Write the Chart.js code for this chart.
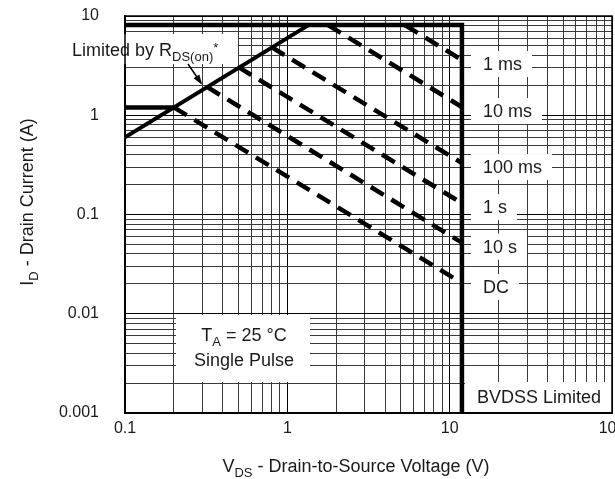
<!DOCTYPE html>
<html>
<head>
<meta charset="utf-8">
<script src="https://cdn.jsdelivr.net/npm/chart.js@4/dist/chart.umd.min.js"></script>
<style>
  html, body { margin: 0; padding: 0; background: #fff; }
  #wrap { width: 615px; height: 479px; position: relative; }
</style>
</head>
<body>
<div id="wrap"><canvas id="c" width="615" height="479"></canvas></div>
<script>
// ---------- data ----------
const xDecades = [0.1, 1, 10, 100];
const xTickLabels = ['0.1', '1', '10', '100'];
const yDecades = [0.001, 0.01, 0.1, 1, 10];
const yTickLabels = ['0.001', '0.01', '0.1', '1', '10'];

// outer boundary: pulsed current limit then BVDSS limit
const boundaryV = [0.1, 11.9, 11.9];
const boundaryI = [8.1, 8.1, 0.001];
// continuous current limit
const idContV = [0.1, 0.2];
const idContI = [1.2, 1.2];
// RDS(on) limit
const rdsV = [0.1, 1.35];
const rdsI = [0.6, 8.1];
// pulse-width limited lines
const pulseLabels = ['1 ms', '10 ms', '100 ms', '1 s', '10 s', 'DC'];
const pulseStartV = [5.3, 1.78, 0.8, 0.5, 0.32, 0.2];
const pulseStartI = [8.1, 8.1, 4.85, 3.05, 1.93, 1.2];
const pulseEndV = [11.9, 11.9, 11.9, 11.9, 11.9, 11.9];
const pulseEndI = [3.6, 1.21, 0.33, 0.13, 0.052, 0.0204];

const FONT = '"Liberation Sans", Arial, Helvetica, sans-serif';
const TXT = '#1a1a1a';

function gridValues(decades) {
  const out = [];
  for (let i = 0; i < decades.length - 1; i++) {
    for (let k = 1; k <= 9; k++) out.push(decades[i] * k);
  }
  out.push(decades[decades.length - 1]);
  return out;
}
function decadeIndex(decades, v) {
  return decades.findIndex(d => Math.abs(d - v) / d < 1e-6);
}
function pts(xs, ys) { return xs.map((x, i) => ({ x: x, y: ys[i] })); }

const datasets = [
  { data: pts(boundaryV, boundaryI), borderWidth: 4.5, borderJoinStyle: 'miter' },
  { data: pts(idContV, idContI), borderWidth: 4.5 },
  { data: pts(rdsV, rdsI), borderWidth: 4 }
];
pulseLabels.forEach((lab, i) => {
  datasets.push({
    label: lab,
    data: pts([pulseStartV[i], pulseEndV[i]], [pulseStartI[i], pulseEndI[i]]),
    borderWidth: 4.5,
    borderDash: [15, 9]
  });
});
datasets.forEach(d => {
  d.showLine = true; d.pointRadius = 0; d.borderColor = '#000'; d.fill = false;
  d.pointHoverRadius = 0;
});

// ---------- helpers for rich text ----------
function richWidth(ctx, parts) {
  let w = 0;
  parts.forEach(p => { ctx.font = p.size + 'px ' + FONT; w += ctx.measureText(p.t).width; });
  return w;
}
function drawRich(ctx, parts, x, y, align) {
  const w = richWidth(ctx, parts);
  let cx = align === 'center' ? x - w / 2 : x;
  ctx.textBaseline = 'alphabetic';
  ctx.textAlign = 'left';
  parts.forEach(p => {
    ctx.font = p.size + 'px ' + FONT;
    ctx.fillText(p.t, cx, y + (p.dy || 0));
    cx += ctx.measureText(p.t).width;
  });
  return w;
}

const annotations = {
  id: 'annotations',
  beforeDatasetsDraw(chart) {
    const ctx = chart.ctx;
    const xs = chart.scales.x, ys = chart.scales.y;
    const area = chart.chartArea;
    ctx.save();
    ctx.fillStyle = TXT;
    // right side pulse labels
    const bx = xs.getPixelForValue(pulseEndV[0]);
    pulseLabels.forEach((lab, i) => {
      const y = ys.getPixelForValue(pulseEndI[i]) + 4;
      ctx.font = '18px ' + FONT;
      const w = ctx.measureText(lab).width;
      const tx = bx + 21;
      ctx.fillStyle = '#fff';
      ctx.fillRect(tx - 12, y - 13, w + 22, 26);
      ctx.fillStyle = TXT;
      ctx.textBaseline = 'middle';
      ctx.textAlign = 'left';
      ctx.fillText(lab, tx, y + 1);
    });
    // BVDSS Limited
    ctx.fillStyle = '#fff';
    ctx.fillRect(bx + 3, area.bottom - 31, area.right - bx - 3, 30);
    ctx.fillStyle = TXT;
    ctx.font = '18px ' + FONT;
    ctx.textBaseline = 'middle';
    ctx.textAlign = 'left';
    ctx.fillText('BVDSS Limited', bx + 15, area.bottom - 15);
    // TA box
    const tcx = area.left + 119;
    ctx.fillStyle = '#fff';
    ctx.fillRect(area.left + 51, area.top + 299, 134, 67);
    ctx.fillStyle = TXT;
    drawRich(ctx, [
      { t: 'T', size: 18 }, { t: 'A', size: 13, dy: 5 }, { t: ' = 25 \u00B0C', size: 18 }
    ], tcx, area.top + 325, 'center');
    drawRich(ctx, [{ t: 'Single Pulse', size: 18 }], tcx, area.top + 350, 'center');
    // Limited by RDS(on)*
    ctx.fillStyle = '#fff';
    ctx.fillRect(area.left - 55, area.top + 18, 168, 30);
    ctx.fillStyle = TXT;
    drawRich(ctx, [
      { t: 'Limited by R', size: 18 }, { t: 'DS(on)', size: 13, dy: 5 }, { t: '*', size: 13, dy: -4 }
    ], area.left - 53, area.top + 40, 'left');
    ctx.restore();
  },
  afterDraw(chart) {
    const ctx = chart.ctx;
    const area = chart.chartArea;
    ctx.save();
    // plot frame
    ctx.strokeStyle = '#000';
    ctx.lineWidth = 1.5;
    ctx.strokeRect(area.left, area.top, area.right - area.left, area.bottom - area.top);
    // arrow from label to RDS(on) line
    const x0 = area.left + 63, y0 = area.top + 48;
    const x1 = area.left + 76, y1 = area.top + 67;
    ctx.strokeStyle = '#000';
    ctx.lineWidth = 1.5;
    ctx.beginPath(); ctx.moveTo(x0, y0); ctx.lineTo(x1, y1); ctx.stroke();
    const ang = Math.atan2(y1 - y0, x1 - x0);
    ctx.fillStyle = '#000';
    ctx.beginPath();
    ctx.moveTo(x1 + 2 * Math.cos(ang), y1 + 2 * Math.sin(ang));
    ctx.lineTo(x1 - 8 * Math.cos(ang) + 3.5 * Math.sin(ang), y1 - 8 * Math.sin(ang) - 3.5 * Math.cos(ang));
    ctx.lineTo(x1 - 8 * Math.cos(ang) - 3.5 * Math.sin(ang), y1 - 8 * Math.sin(ang) + 3.5 * Math.cos(ang));
    ctx.closePath(); ctx.fill();
    // axis titles
    ctx.fillStyle = TXT;
    drawRich(ctx, [
      { t: 'V', size: 18 }, { t: 'DS', size: 13, dy: 5 }, { t: ' - Drain-to-Source Voltage (V)', size: 18 }
    ], 356, 472, 'center');
    ctx.translate(33, 202);
    ctx.rotate(-Math.PI / 2);
    drawRich(ctx, [
      { t: 'I', size: 18 }, { t: 'D', size: 13, dy: 5 }, { t: ' - Drain Current (A)', size: 18 }
    ], 0, 0, 'center');
    ctx.restore();
  }
};

const gridColor = (decades) => (c) => {
  if (!c.tick) return '#333';
  return decadeIndex(decades, c.tick.value) >= 0 ? '#000' : '#3a3a3a';
};

new Chart(document.getElementById('c'), {
  type: 'scatter',
  data: { datasets: datasets },
  options: {
    responsive: false,
    devicePixelRatio: 1,
    animation: false,
    events: [],
    layout: { padding: { left: 0, right: 3, top: 16, bottom: 0 } },
    plugins: { legend: { display: false }, tooltip: { enabled: false } },
    scales: {
      x: {
        type: 'logarithmic', min: 0.1, max: 100, position: 'bottom',
        grid: { color: gridColor(xDecades), lineWidth: 1, drawTicks: false },
        border: { display: true, color: '#000', width: 1.5 },
        ticks: {
          autoSkip: false, maxRotation: 0, minRotation: 0, padding: 6,
          color: TXT, font: { size: 16, family: FONT },
          callback: (v) => { const i = decadeIndex(xDecades, v); return i >= 0 ? xTickLabels[i] : ''; }
        },
        afterBuildTicks: (s) => { s.ticks = gridValues(xDecades).map(v => ({ value: v })); },
        afterFit: (s) => { s.height = 66; s.paddingLeft = 0; s.paddingRight = 0; }
      },
      y: {
        type: 'logarithmic', min: 0.001, max: 10, position: 'left',
        grid: { color: gridColor(yDecades), lineWidth: 1, drawTicks: false },
        border: { display: true, color: '#000', width: 1.5 },
        ticks: {
          autoSkip: false, padding: 26,
          color: TXT, font: { size: 16, family: FONT },
          callback: (v) => { const i = decadeIndex(yDecades, v); return i >= 0 ? yTickLabels[i] : ''; }
        },
        afterBuildTicks: (s) => { s.ticks = gridValues(yDecades).map(v => ({ value: v })); },
        afterFit: (s) => { s.width = 125; s.paddingTop = 0; s.paddingBottom = 0; }
      }
    }
  },
  plugins: [annotations]
});
</script>
</body>
</html>
